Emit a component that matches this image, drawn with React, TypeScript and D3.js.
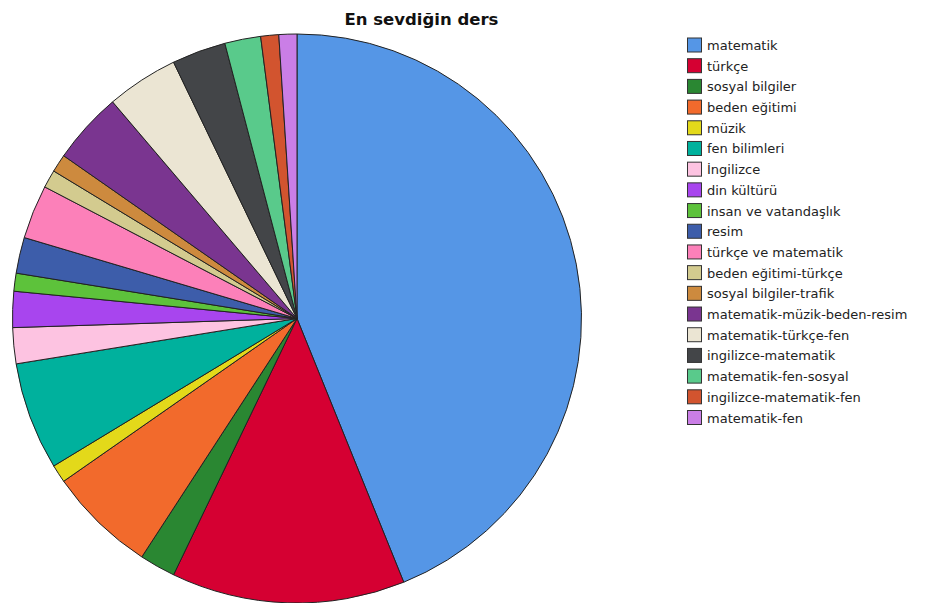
import React from "react";
import * as d3 from "d3";

const title = "En sevdiğin ders";
const categories = [
  "matematik",
  "türkçe",
  "sosyal bilgiler",
  "beden eğitimi",
  "müzik",
  "fen bilimleri",
  "İngilizce",
  "din kültürü",
  "insan ve vatandaşlık",
  "resim",
  "türkçe ve matematik",
  "beden eğitimi-türkçe",
  "sosyal bilgiler-trafik",
  "matematik-müzik-beden-resim",
  "matematik-türkçe-fen",
  "ingilizce-matematik",
  "matematik-fen-sosyal",
  "ingilizce-matematik-fen",
  "matematik-fen",
];
const counts = [43, 13, 2, 6, 1, 6, 2, 2, 1, 2, 3, 1, 1, 4, 4, 3, 2, 1, 1];
const colors = [
  "#5596E6",
  "#D50032",
  "#2A8732",
  "#F26A2C",
  "#E3D91A",
  "#00B19D",
  "#FDC3E1",
  "#A845EE",
  "#5DC23B",
  "#3D5DAA",
  "#FC80B9",
  "#D3CB8F",
  "#CD8A3E",
  "#7A3590",
  "#EBE5D3",
  "#434548",
  "#59CA8B",
  "#D2542F",
  "#CA7EE6",
];

export default function App() {
  const W = 928;
  const H = 603;
  const cx = 297;
  const cy = 318.5;
  const r = 284.5;
  const data = categories.map((c, i) => ({ c, v: counts[i], col: colors[i] }));
  const pie = d3
    .pie<any>()
    .value((d) => d.v)
    .sort(null)
    .startAngle(0)
    .endAngle(2 * Math.PI);
  const arcs = pie(data);
  const arc = d3.arc<any>().innerRadius(0).outerRadius(r);
  const legY = d3.scaleLinear().domain([0, 18]).range([45, 417.5]);
  return (
    <svg
      width={W}
      height={H}
      style={{ position: "absolute", left: 0, top: 0, background: "#fff" }}
    >
      <text
        x={421.5}
        y={25}
        textAnchor="middle"
        fontFamily="DejaVu Sans, sans-serif"
        fontWeight="bold"
        fontSize={16.5}
        fill="#111"
      >
        {title}
      </text>
      <g transform={`translate(${cx},${cy})`}>
        {arcs.map((a, i) => (
          <path
            key={i}
            d={arc(a) as string}
            fill={a.data.col}
            stroke="#222"
            strokeWidth={1}
            strokeLinejoin="round"
          />
        ))}
      </g>
      <g>
        {categories.map((c, i) => (
          <g key={c} transform={`translate(687,${legY(i)})`}>
            <rect
              x={0.5}
              y={-7}
              width={14}
              height={14}
              fill={colors[i]}
              stroke="#333"
              strokeWidth={1}
            />
            <text
              x={20}
              y={5}
              fontFamily="DejaVu Sans, sans-serif"
              fontSize={13}
              fill="#222"
            >
              {c}
            </text>
          </g>
        ))}
      </g>
    </svg>
  );
}
